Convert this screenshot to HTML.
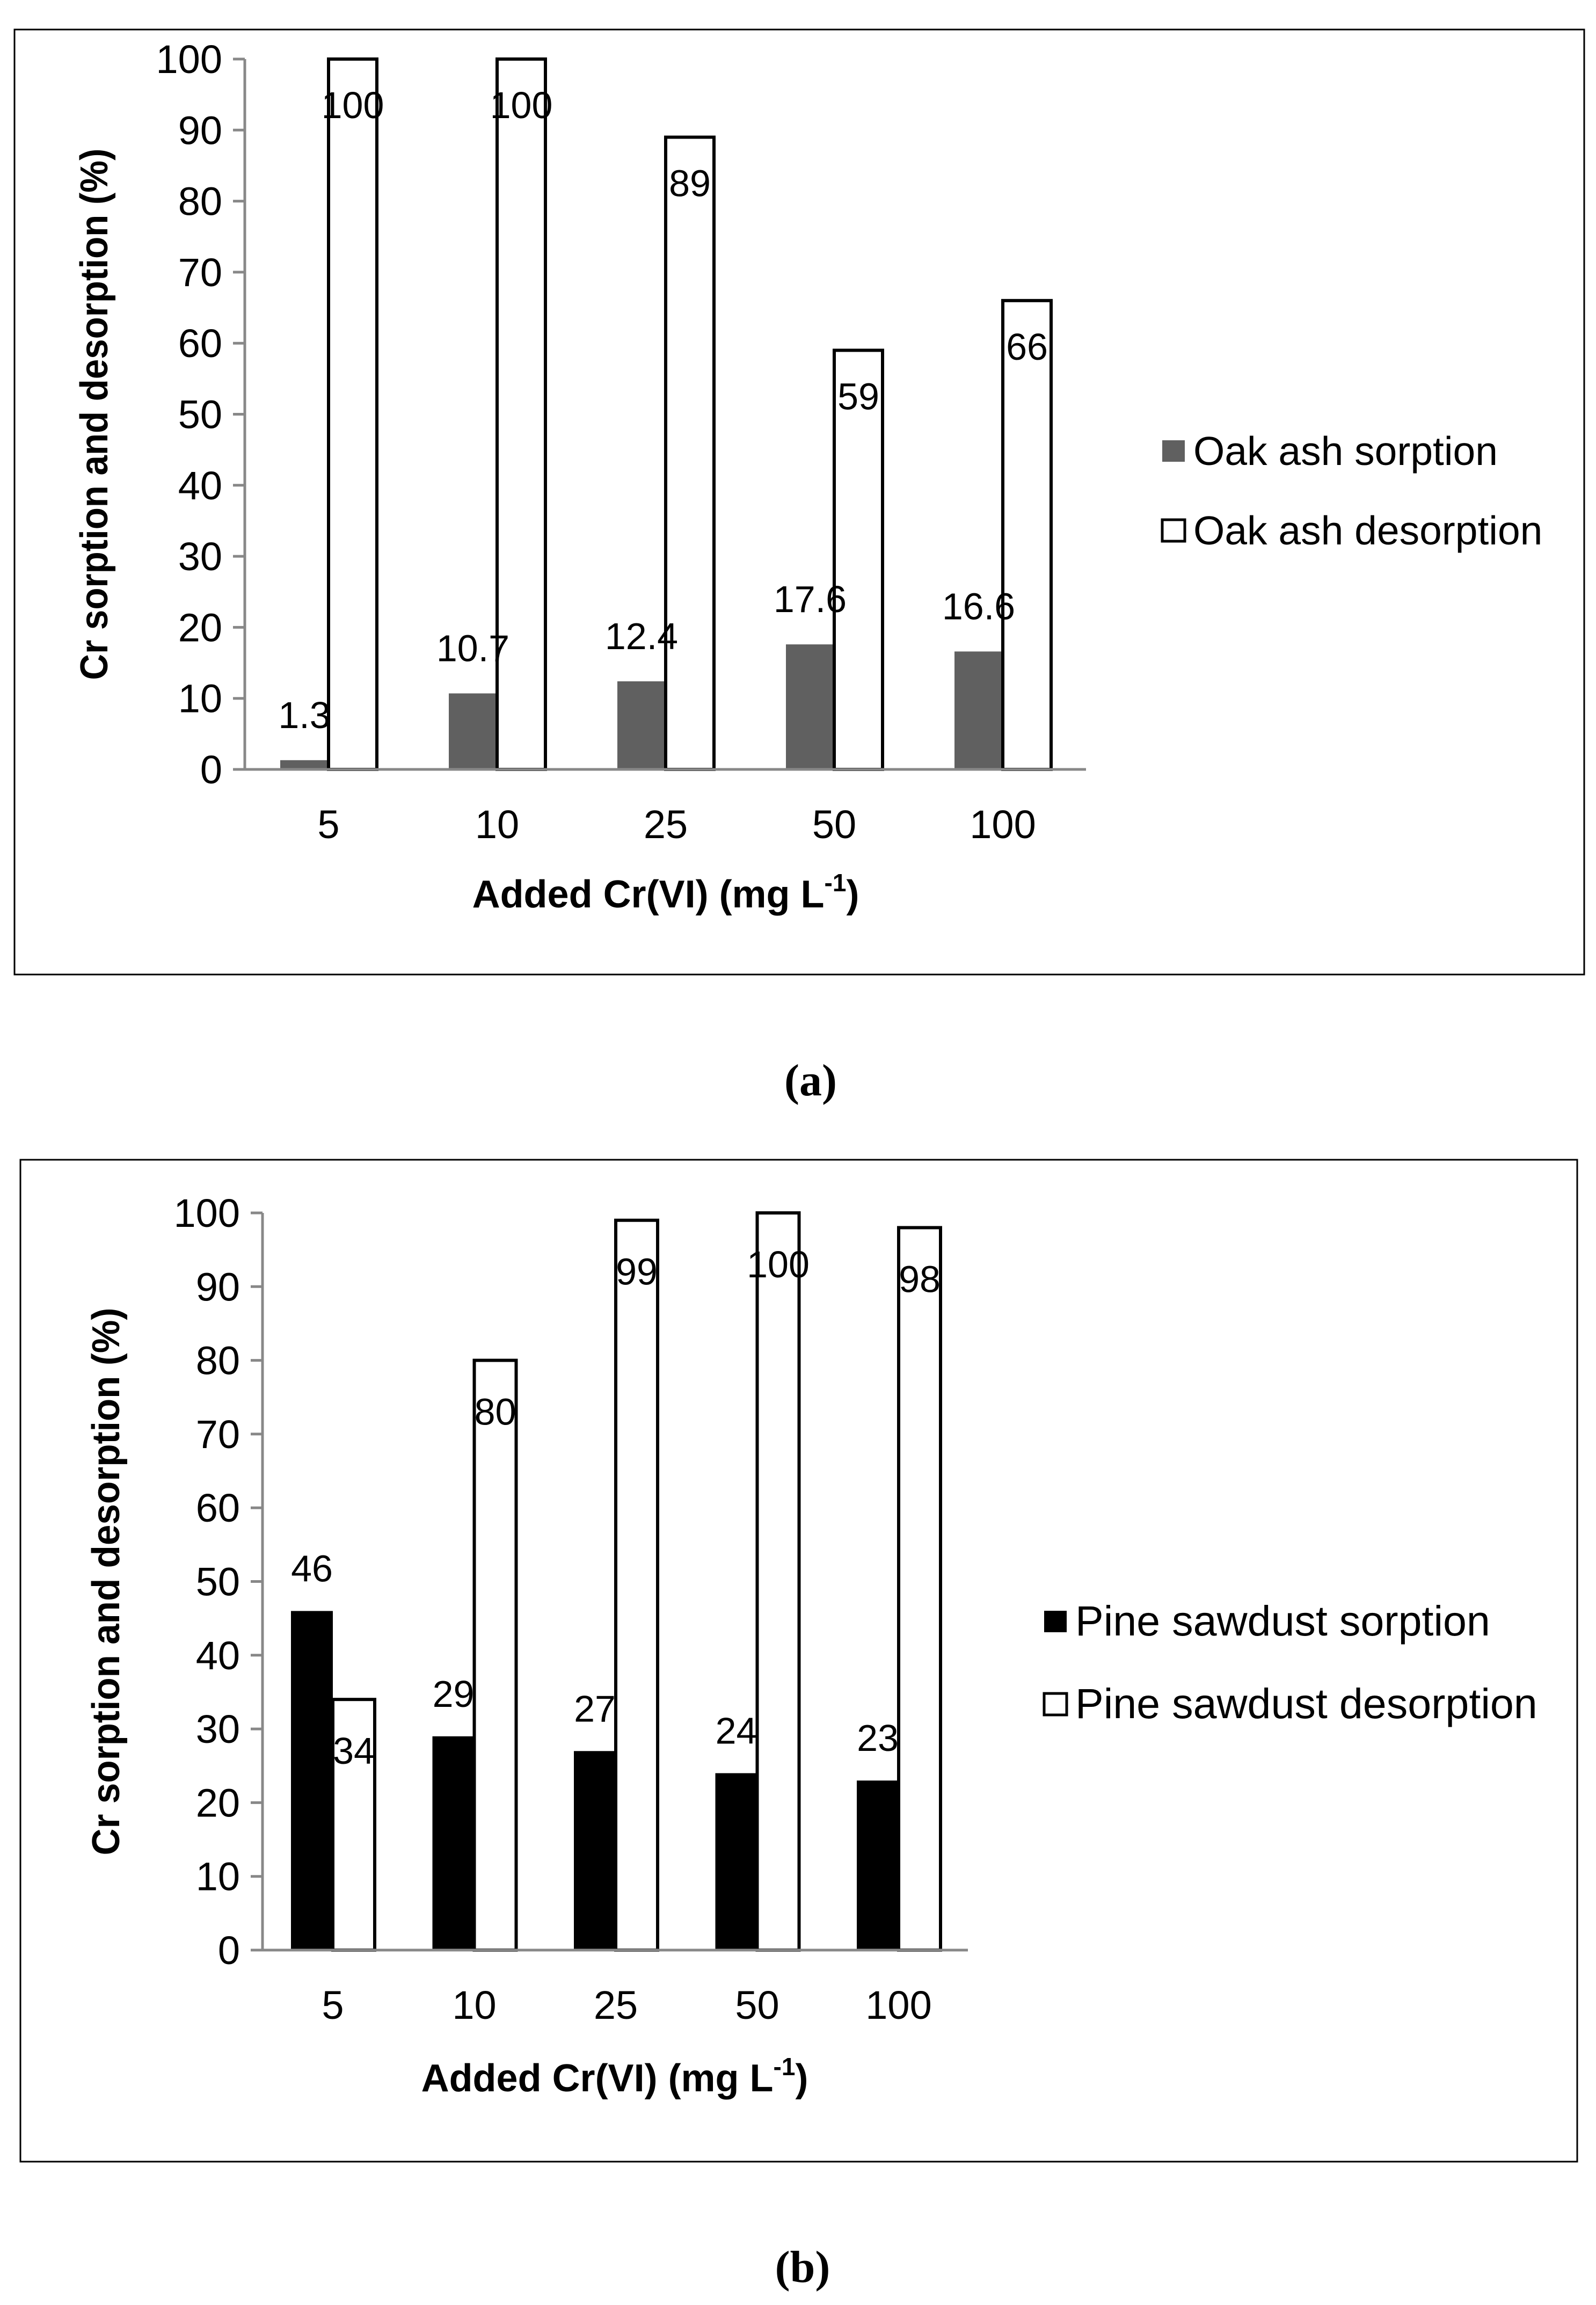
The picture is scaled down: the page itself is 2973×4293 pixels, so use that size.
<!DOCTYPE html>
<html><head><meta charset="utf-8"><style>
html,body{margin:0;padding:0;background:#fff;width:2973px;height:4293px;overflow:hidden}
svg{display:block;font-family:"Liberation Sans",sans-serif}
</style></head><body>
<svg id="root" width="2973" height="4293">
<rect x="27" y="55" width="2924" height="1760" fill="none" stroke="#000" stroke-width="3"/>
<rect x="38" y="2160" width="2900" height="1866" fill="none" stroke="#000" stroke-width="3"/>
<g id="ga"></g>
<g id="gb"></g>
<text x="1510" y="2040" font-family="Liberation Serif" font-weight="bold" font-size="84" text-anchor="middle">(a)</text>
<text x="1495" y="4250" font-family="Liberation Serif" font-weight="bold" font-size="84" text-anchor="middle">(b)</text>
</svg>
<script>
const categories = ["5","10","25","50","100"];
const yTicks = [0,10,20,30,40,50,60,70,80,90,100];
const aSorption = [1.3,10.7,12.4,17.6,16.6];
const aDesorption = [100,100,89,59,66];
const aSorpLabels = ["1.3","10.7","12.4","17.6","16.6"];
const aDesLabels = ["100","100","89","59","66"];
const bSorption = [46,29,27,24,23];
const bDesorption = [34,80,99,100,98];
const bSorpLabels = ["46","29","27","24","23"];
const bDesLabels = ["34","80","99","100","98"];
const NS="http://www.w3.org/2000/svg";
function mk(p,tag,at,txt){const e=document.createElementNS(NS,tag);for(const k in at)e.setAttribute(k,at[k]);if(txt!=null)e.textContent=txt;p.appendChild(e);return e;}
function chart(g,cfg){
  const y=v=>cfg.y0-(cfg.y0-cfg.y100)*v/100;
  const xc=i=>cfg.x0+cfg.step*i;
  yTicks.forEach(t=>{
    const l=mk(g,'line',{x1:cfg.ax-22,x2:cfg.ax,y1:y(t),y2:y(t),stroke:'#888','stroke-width':5});
    
    
    const tx=mk(g,'text',{x:cfg.ax-42,y:y(t)+26,'font-size':74,'text-anchor':'end'},String(t));
    
    
  });
  categories.forEach((c,i)=>{
    const s=mk(g,'rect',{x:xc(i)-cfg.bw,y:y(cfg.sorp[i]),width:cfg.bw,height:y(0)-y(cfg.sorp[i]),fill:cfg.sfill});
    
    
    const d=mk(g,'rect',{x:xc(i),y:y(cfg.des[i]),width:cfg.bw,height:y(0)-y(cfg.des[i]),fill:'#fff',stroke:'#000','stroke-width':6});
    
    
    const sl=mk(g,'text',{x:xc(i)-cfg.bw/2,y:y(cfg.sorp[i])-cfg.sOff,'font-size':70,'text-anchor':'middle'},cfg.sl[i]);
    
    
    const dl=mk(g,'text',{x:xc(i)+cfg.bw/2,y:y(cfg.des[i])+cfg.dOff,'font-size':70,'text-anchor':'middle'},cfg.dl[i]);
    
    
    const xl=mk(g,'text',{x:xc(i),y:cfg.y0+128,'font-size':74,'text-anchor':'middle'},c);
    
    
  });
  const ya=mk(g,'line',{x1:cfg.ax,x2:cfg.ax,y1:cfg.y100,y2:cfg.y0,stroke:'#888','stroke-width':5});
  
  
  const xa=mk(g,'line',{x1:cfg.ax-22,x2:cfg.axEnd,y1:cfg.y0,y2:cfg.y0,stroke:'#888','stroke-width':5});
  
  
  const yt=mk(g,'text',{transform:`translate(${cfg.ytx},${(cfg.y0+cfg.y100)/2}) rotate(-90)`,'font-size':72,'font-weight':'bold','text-anchor':'middle',textLength:cfg.ytl,lengthAdjust:'spacingAndGlyphs'},'Cr sorption and desorption (%)');
  
  
  const xt=mk(g,'text',{x:cfg.xtx,y:cfg.xty,'font-size':72,'font-weight':'bold','text-anchor':'middle'});
  
  
  xt.innerHTML='Added Cr(VI) (mg L<tspan dy="-30" font-size="46">-1</tspan><tspan dy="30">)</tspan>';
  [[cfg.sfill,cfg.l1,0],['#fff',cfg.l2,1]].forEach(([f,t,k])=>{
    const ly=cfg.ly+k*cfg.lgap;
    const r=mk(g,'rect',{x:cfg.lx,y:ly-20,width:42,height:40,fill:f,stroke:k?'#000':'none','stroke-width':5});
    
    
    const lt=mk(g,'text',{x:cfg.lx+58,y:ly+26,'font-size':cfg.lfs},t);
    
    
  });
}
chart(document.getElementById('ga'),{y0:1433,y100:110,x0:612,step:314,bw:90,ax:456,axEnd:2023,sorp:aSorption,des:aDesorption,sl:aSorpLabels,dl:aDesLabels,sfill:'#606060',sOff:60,dOff:110,ytx:200,ytl:990,xtx:1240,xty:1690,lx:2165,ly:840,lgap:148,lfs:75,l1:'Oak ash sorption',l2:'Oak ash desorption'});
chart(document.getElementById('gb'),{y0:3632,y100:2259,x0:620,step:263.5,bw:78,ax:489,axEnd:1803,sorp:bSorption,des:bDesorption,sl:bSorpLabels,dl:bDesLabels,sfill:'#000',sOff:55,dOff:120,ytx:222,ytl:1020,xtx:1145,xty:3895,lx:1945,ly:3020,lgap:154,lfs:79,l1:'Pine sawdust sorption',l2:'Pine sawdust desorption'});
</script>
</body></html>
